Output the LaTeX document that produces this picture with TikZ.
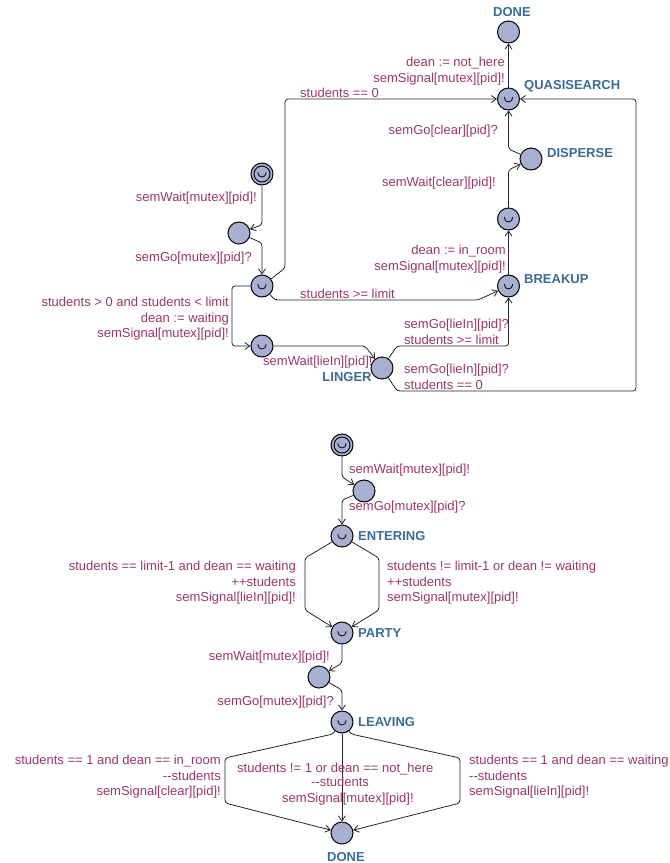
\documentclass[tikz,border=0pt]{standalone}
\usepackage{fontspec}
\setmainfont{Liberation Sans}
\usepackage{tikz}
\usetikzlibrary{arrows.meta,positioning}

\definecolor{locfill}{RGB}{168,176,210}
\definecolor{namecol}{RGB}{58,108,150}
\definecolor{lblcol}{RGB}{153,55,105}

% the little cup drawn inside urgent locations
\newcommand{\locCup}{\draw[line width=0.8pt] ([shift={(-4pt,2pt)}]path picture bounding box.center) -- ++(0pt,-1pt) arc[start angle=180,end angle=360,radius=4pt] -- ++(0pt,1pt);}

\begin{document}
\begin{tikzpicture}[x=1pt,y=-1pt,
    every node/.style={font=\fontsize{13}{15.5}\selectfont},
    loc/.style={circle,draw,fill=locfill,minimum size=22pt,inner sep=0pt,line width=1pt},
    urgent/.style={loc,path picture={\locCup}},
    initloc/.style={loc,path picture={\draw[line width=0.9pt] (path picture bounding box.center) circle[radius=8pt]; \locCup}},
    loclabel/.style={text=namecol,font=\fontsize{13}{15.5}\selectfont\bfseries,inner sep=0pt},
    lbl/.style={text=lblcol,inner sep=0pt},
    trans/.style={draw=black!85,line width=0.8pt,rounded corners=3pt,-{Straight Barb[length=5pt,width=7pt]}}]

  \useasboundingbox (0,0) rectangle (670,863);

  % dean template
  \node[initloc] (tInit) at (262,174) {};
  \node[loc] (tWait) at (239,233) {};
  \node[urgent] (tChoose) at (262,286) {};
  \node[urgent] (tSignal) at (262,346) {};
  \node[loc] (tLinger) at (382,368) {};
  \node[urgent] (tBreakup) at (508.5,286) {};
  \node[urgent] (tLeave) at (508.5,219) {};
  \node[loc] (tDisperse) at (531,159) {};
  \node[urgent] (tQuasi) at (508.5,99) {};
  \node[loc] (tDone) at (508.5,32) {};

  \node[loclabel] (nDoneT) at (512,12) {DONE};
  \node[loclabel,anchor=west] (nQuasi) at (524,86) {QUASISEARCH};
  \node[loclabel,anchor=west] (nDisperse) at (547,153) {DISPERSE};
  \node[loclabel,anchor=west] (nBreakup) at (524,279) {BREAKUP};
  \node[loclabel] (nLinger) at (347,377) {LINGER};

  \draw[trans] (tInit) -- (262,225) -- (tWait);
  \draw[trans] (tWait) -- (262,243) -- (tChoose);
  \draw[trans] (tChoose) -- (285,268) -- (285,99) -- (tQuasi);
  \draw[trans] (tChoose) -- (275,300) -- (478,300) -- (tBreakup);
  \draw[trans] (tChoose) -- (232,286) -- (232,346) -- (tSignal);
  \draw[trans] (tSignal) -- (365,346) -- (tLinger);
  \draw[trans] (tLinger) -- (397,346) -- (508.5,346) -- (tBreakup);
  \draw[trans] (tLinger) -- (397,391) -- (636,391) -- (636,99) -- (tQuasi);
  \draw[trans] (tBreakup) -- (tLeave);
  \draw[trans] (tLeave) -- (508.5,170) -- (tDisperse);
  \draw[trans] (tDisperse) -- (508.5,149) -- (tQuasi);
  \draw[trans] (tQuasi) -- (tDone);

  \node[lbl,anchor=north east] (lInit) at (257,192) {semWait[mutex][pid]!};
  \node[lbl,anchor=north east] (lWait) at (252,252) {semGo[mutex][pid]?};
  \node[lbl,anchor=north west] (lEmpty) at (300,88) {students == 0};
  \node[lbl,anchor=north west] (lFull) at (300,289) {students >= limit};
  \node[lbl,anchor=north east,align=right] (lSome) at (229,297)
    {students > 0 and students < limit\\dean := waiting\\semSignal[mutex][pid]!};
  \node[lbl,anchor=north west] (lSignal) at (263,356) {semWait[lieIn][pid]!};
  \node[lbl,anchor=north west,align=left] (lLingerB) at (404,319)
    {semGo[lieIn][pid]?\\students >= limit};
  \node[lbl,anchor=north west,align=left] (lLingerQ) at (404,364)
    {semGo[lieIn][pid]?\\students == 0};
  \node[lbl,anchor=north east,align=right] (lBreakup) at (506,245)
    {dean := in\_room\\semSignal[mutex][pid]!};
  \node[lbl,anchor=north east] (lLeave) at (496,177) {semWait[clear][pid]!};
  \node[lbl,anchor=north east] (lDisperse) at (498,125) {semGo[clear][pid]?};
  \node[lbl,anchor=north east,align=right] (lQuasi) at (505,57)
    {dean := not\_here\\semSignal[mutex][pid]!};

  % student template
  \node[initloc] (bInit) at (342,445) {};
  \node[loc] (bWaitIn) at (364,491) {};
  \node[urgent] (bEntering) at (342,536) {};
  \node[urgent] (bParty) at (342,633) {};
  \node[loc] (bWaitOut) at (319,677) {};
  \node[urgent] (bLeaving) at (342,722) {};
  \node[loc] (bDone) at (342,833) {};

  \node[loclabel,anchor=west] (nEntering) at (358,536) {ENTERING};
  \node[loclabel,anchor=west] (nParty) at (358,633) {PARTY};
  \node[loclabel,anchor=west] (nLeaving) at (358,722) {LEAVING};
  \node[loclabel] (nDoneB) at (346,857) {DONE};

  \draw[trans] (bInit) -- (342,477) -- (bWaitIn);
  \draw[trans] (bWaitIn) -- (342,500) -- (bEntering);
  \draw[trans] (bEntering) -- (305,558) -- (305,610) -- (bParty);
  \draw[trans] (bEntering) -- (379,558) -- (379,610) -- (bParty);
  \draw[trans] (bParty) -- (342,663) -- (bWaitOut);
  \draw[trans] (bWaitOut) -- (342,690) -- (bLeaving);
  \draw[trans] (bLeaving) -- (333,734) -- (225,758) -- (225,803) -- (bDone);
  \draw[trans] (bLeaving) -- (bDone);
  \draw[trans] (bLeaving) -- (351,734) -- (460,758) -- (460,803) -- (bDone);

  \node[lbl,anchor=north west] (lbInit) at (349,464) {semWait[mutex][pid]!};
  \node[lbl,anchor=north west] (lbWaitIn) at (349,501) {semGo[mutex][pid]?};
  \node[lbl,anchor=north east,align=right] (lbLast) at (296,561)
    {students == limit-1 and dean == waiting\\++students\\semSignal[lieIn][pid]!};
  \node[lbl,anchor=north west,align=left] (lbMore) at (387,561)
    {students != limit-1 or dean != waiting\\++students\\semSignal[mutex][pid]!};
  \node[lbl,anchor=north east] (lbParty) at (330,651) {semWait[mutex][pid]!};
  \node[lbl,anchor=north east] (lbWaitOut) at (334,696) {semGo[mutex][pid]?};
  \node[lbl,anchor=north east,align=right] (lbClear) at (221,755)
    {students == 1 and dean == in\_room\\-{}-students\\semSignal[clear][pid]!};
  \node[lbl,anchor=north west] (lbGuard) at (237,763) {students != 1 or dean == not\_here};
  \node[lbl,anchor=north west] (lbDec) at (311,777) {-{}-students};
  \node[lbl,anchor=north west] (lbSync) at (282,793) {semSignal[mutex][pid]!};
  \node[lbl,anchor=north west,align=left] (lbLieIn) at (469,755)
    {students == 1 and dean == waiting\\-{}-students\\semSignal[lieIn][pid]!};

\end{tikzpicture}
\end{document}
